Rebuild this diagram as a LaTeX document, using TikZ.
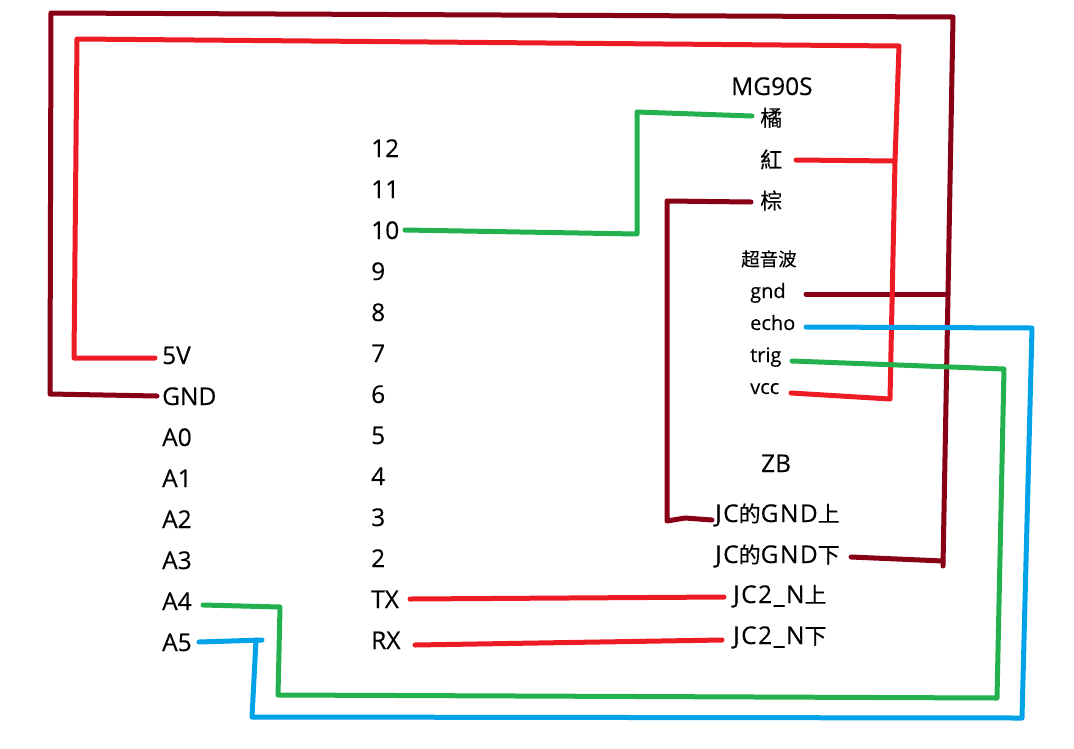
\documentclass[tikz,border=0pt]{standalone}
\usepackage{fontspec}
\setmainfont[FakeBold=0.25]{Open Sans}
\newfontfamily\widefont[FakeBold=0.25,LetterSpace=6]{Open Sans}
\newfontfamily\cjkbase[FakeBold=0.15]{Noto Sans CJK TC}
\newcommand{\cjk}[1]{{\fontsize{22}{24}\cjkbase #1}}
\definecolor{wdark}{HTML}{880015}
\definecolor{wred}{HTML}{ED1C24}
\definecolor{wgreen}{HTML}{22B14C}
\definecolor{wblue}{HTML}{00A2E8}
\tikzset{
  lab/.style={inner sep=0pt,anchor=base west,font=\fontsize{24.5}{26}\selectfont,text=black},
  widelab/.style={lab,font=\fontsize{24.5}{26}\widefont},
  smalllab/.style={lab,font=\fontsize{20}{22}\selectfont},
  wire/.style={line width=5pt,line cap=round,line join=round},
  dk/.style={wire,draw=wdark},
  rd/.style={wire,draw=wred},
  gn/.style={wire,draw=wgreen},
  bl/.style={wire,draw=wblue}
}
\begin{document}
\begin{tikzpicture}[x=1pt,y=-1pt]
\useasboundingbox (0,0) rectangle (1074,748);
% left labels
\node[lab] (v5) at (162,364) {5V};
\node[lab] (gnd) at (162,405) {GND};
\node[lab] (a0) at (162,446) {A0};
\node[lab] (a1) at (162,487) {A1};
\node[lab] (a2) at (162,528) {A2};
\node[lab] (a3) at (162,569) {A3};
\node[lab] (a4) at (162,610) {A4};
\node[lab] (a5) at (162,651) {A5};
% middle labels
\node[lab] (p12) at (371,157) {12};
\node[lab] (p11) at (371,198) {11};
\node[lab] (p10) at (371,239) {10};
\node[lab] (p9) at (371,280) {9};
\node[lab] (p8) at (371,321) {8};
\node[lab] (p7) at (371,362) {7};
\node[lab] (p6) at (371,403) {6};
\node[lab] (p5) at (371,444) {5};
\node[lab] (p4) at (371,485) {4};
\node[lab] (p3) at (371,526) {3};
\node[lab] (p2) at (371,567) {2};
\node[lab] (tx) at (371,608) {TX};
\node[lab] (rx) at (371,649) {RX};
% right labels
\node[lab] (mg) at (731,95) {MG90S};
\node[lab] (or) at (760,126) {\cjk{橘}};
\node[lab] (re) at (760,168) {\cjk{紅}};
\node[lab] (br) at (760,209) {\cjk{棕}};
\node[smalllab] (us) at (741,266) {{\fontsize{18.5}{20}\cjkbase 超音波}};
\node[smalllab] (ug) at (750,298) {gnd};
\node[smalllab] (ue) at (750,330) {echo};
\node[smalllab] (ut) at (750,362) {trig};
\node[smalllab] (uv) at (750,394) {vcc};
\node[lab] (zb) at (761,472) {ZB};
\node[widelab] (jg1) at (715,522) {JC\cjk{的}GND\cjk{上}};
\node[widelab] (jg2) at (715,563) {JC\cjk{的}GND\cjk{下}};
\node[widelab] (jn1) at (733,603) {JC2\_N\cjk{上}};
\node[widelab] (jn2) at (733,644) {JC2\_N\cjk{下}};
% wire ends and bends
\coordinate (w5v) at (155,358);
\coordinate (wgnd) at (157,396);
\coordinate (w10) at (405,230);
\coordinate (wor) at (752,116);
\coordinate (wre) at (796,160);
\coordinate (wbr) at (751,202);
\coordinate (wug) at (806,294);
\coordinate (wue) at (806,327);
\coordinate (wut) at (792,361);
\coordinate (wuv) at (791,393);
\coordinate (wj1) at (712,520);
\coordinate (wj2) at (851,557);
\coordinate (wa4) at (203,605);
\coordinate (wa5) at (199,642);
\coordinate (wa5e) at (262,640);
\coordinate (wtx) at (410,599);
\coordinate (wrx) at (415,645);
\coordinate (wn1) at (724,597);
\coordinate (wn2) at (722,640);
\coordinate (dkA) at (50,394);
\coordinate (dkB) at (51,13);
\coordinate (dkC) at (953,17);
\coordinate (dkD) at (948,294);
\coordinate (dkE) at (943,566);
\coordinate (dkF) at (943,561);
\coordinate (rdA) at (74,358);
\coordinate (rdB) at (77,39);
\coordinate (rdC) at (899,46);
\coordinate (rdD) at (895,161);
\coordinate (rdE) at (890,399);
\coordinate (gnA) at (637,234);
\coordinate (gnB) at (637,112);
\coordinate (brA) at (667,201);
\coordinate (brB) at (667,521);
\coordinate (brC) at (685,518);
\coordinate (blA) at (1032,328);
\coordinate (blB) at (1022,718);
\coordinate (blC) at (252,717);
\coordinate (blD) at (256,640);
\coordinate (trA) at (1004,369);
\coordinate (trB) at (997,698);
\coordinate (trC) at (278,695);
\coordinate (trD) at (280,607);
% wires
\draw[dk] (wgnd) -- (dkA) -- (dkB) -- (dkC) -- (dkD) -- (dkE);
\draw[dk] (wug) -- (dkD);
\draw[dk] (wj2) -- (dkF);
\draw[rd] (w5v) -- (rdA) -- (rdB) -- (rdC) -- (rdD) -- (rdE) -- (wuv);
\draw[rd] (wre) -- (rdD);
\draw[gn] (w10) -- (gnA) -- (gnB) -- (wor);
\draw[dk] (wbr) -- (brA) -- (brB) -- (brC) -- (wj1);
\draw[bl] (wue) -- (blA) -- (blB) -- (blC) -- (blD);
\draw[bl] (wa5) -- (wa5e);
\draw[gn] (wut) -- (trA) -- (trB) -- (trC) -- (trD) -- (wa4);
\draw[rd] (wtx) -- (wn1);
\draw[rd] (wrx) -- (wn2);
\end{tikzpicture}
\end{document}
